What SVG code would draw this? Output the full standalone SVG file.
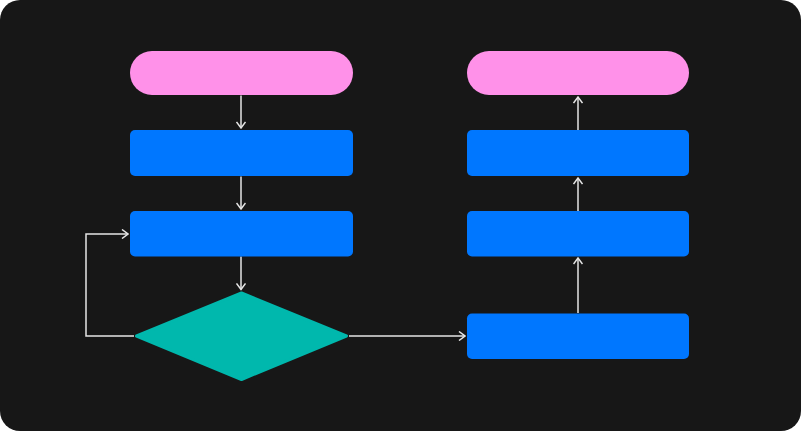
<svg xmlns="http://www.w3.org/2000/svg" width="801" height="431" viewBox="0 0 801 431">
<defs>
<style>
.pill{fill:#FF91E9}
.box{fill:#0077FF}
.dec{fill:#00B8AD;stroke:#00B8AD;stroke-width:3;stroke-linejoin:round}
.conn{fill:none;stroke:#E6E6E6;stroke-width:1.5}
</style>
<marker id="ah" viewBox="0 0 10 10" refX="9" refY="5" markerWidth="10" markerHeight="10" markerUnits="userSpaceOnUse" orient="auto">
<path d="M3,0.5 L9,5 L3,9.5" fill="none" stroke="#E6E6E6" stroke-width="1.5"/>
</marker>
</defs>
<rect x="0" y="0" width="801" height="431" fill="#FFFFFF"/>
<rect x="0" y="0" width="801" height="431" rx="20" fill="#171717"/>
<g id="connectors">
<path class="conn" d="M241,95.5 V128" marker-end="url(#ah)"/>
<path class="conn" d="M241,176.5 V209" marker-end="url(#ah)"/>
<path class="conn" d="M241,256.5 V289.5" marker-end="url(#ah)"/>
<path class="conn" d="M134,336 H86 V234 H128" marker-end="url(#ah)"/>
<path class="conn" d="M349,336 H465" marker-end="url(#ah)"/>
<path class="conn" d="M578,313 V258" marker-end="url(#ah)"/>
<path class="conn" d="M578,211 V178" marker-end="url(#ah)"/>
<path class="conn" d="M578,130 V97" marker-end="url(#ah)"/>
</g>
<g id="start"><rect class="pill" x="130" y="51" width="223" height="44" rx="22"/></g>
<g id="step1"><rect class="box" x="130" y="130" width="223" height="46" rx="5"/></g>
<g id="step2"><rect class="box" x="130" y="211" width="223" height="45.5" rx="5"/></g>
<g id="decision"><polygon class="dec" points="241.5,293 346.5,336 241.5,379.5 136.5,336"/></g>
<g id="step3"><rect class="box" x="467" y="313.5" width="222" height="45.5" rx="5"/></g>
<g id="step4"><rect class="box" x="467" y="211" width="222" height="45.5" rx="5"/></g>
<g id="step5"><rect class="box" x="467" y="130" width="222" height="46" rx="5"/></g>
<g id="end"><rect class="pill" x="467" y="51" width="222" height="44" rx="22"/></g>
</svg>
